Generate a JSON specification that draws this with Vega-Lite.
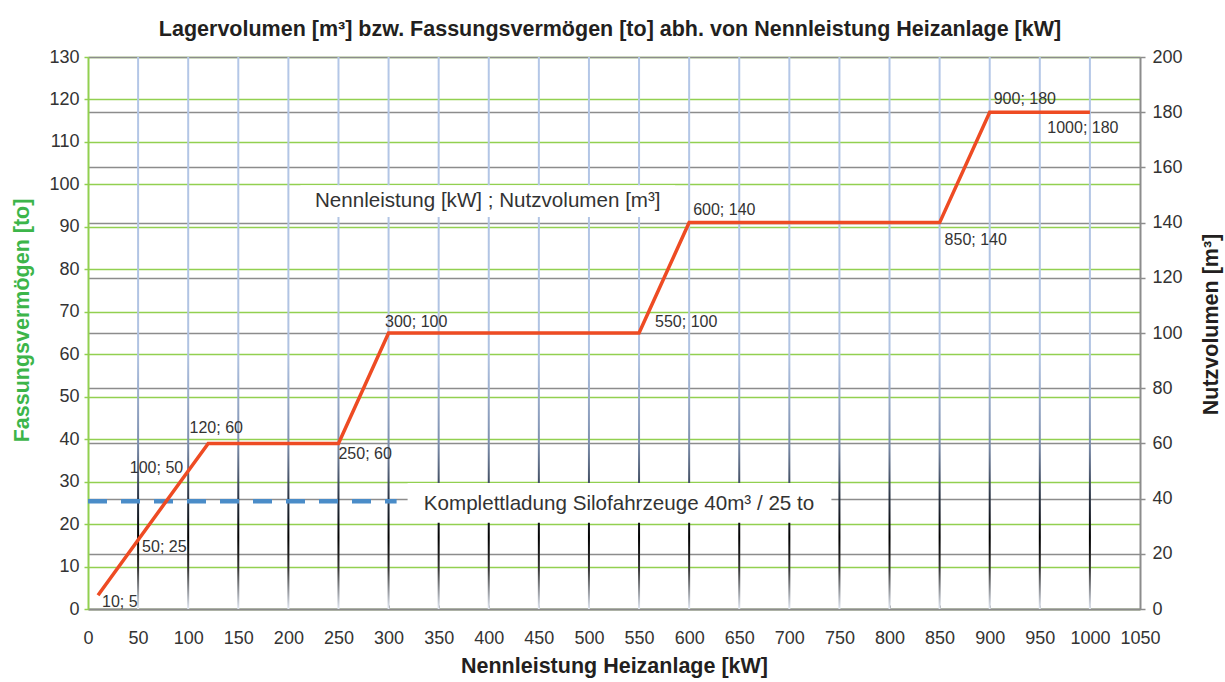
{
  "$schema": "https://vega.github.io/schema/vega-lite/v6.json",
  "width": 1052,
  "height": 552,
  "autosize": {"type": "none"},
  "padding": {"left": 88, "top": 57, "right": 85, "bottom": 73},
  "background": "white",
  "title": {
    "text": "Lagervolumen [m³] bzw. Fassungsvermögen [to] abh. von Nennleistung Heizanlage [kW]",
    "font": "Liberation Sans",
    "fontSize": 21.5,
    "fontWeight": "bold",
    "color": "#231f20",
    "anchor": "middle",
    "offset": 8,
    "dx": -4
  },
  "config": {
    "font": "Liberation Sans",
    "view": {"stroke": null},
    "axis": {
      "labelFont": "Liberation Sans",
      "labelFontSize": 18,
      "labelColor": "#333333",
      "titleFont": "Liberation Sans",
      "titleFontSize": 21.5,
      "titleFontWeight": "bold",
      "titleColor": "#231f20",
      "labelOverlap": false,
      "labelFlush": false
    },
    "axisX": {
      "title": "Nennleistung Heizanlage [kW]",
      "values": [0,10,20,30,40,50,60,70,80,90,100,110,120,130,140,150,160,170,180,190,200,210,220,230,240,250,260,270,280,290,300,310,320,330,340,350,360,370,380,390,400,410,420,430,440,450,460,470,480,490,500,510,520,530,540,550,560,570,580,590,600,610,620,630,640,650,660,670,680,690,700,710,720,730,740,750,760,770,780,790,800,810,820,830,840,850,860,870,880,890,900,910,920,930,940,950,960,970,980,990,1000,1010,1020,1030,1040,1050],
      "labelExpr": "datum.value % 50 === 0 ? datum.label : ''",
      "format": "d",
      "grid": false,
      "tickSize": -4,
      "tickColor": "#8c8c8c",
      "tickWidth": 1,
      "domainColor": "#8c8c8c",
      "domainWidth": 2,
      "labelPadding": 24,
      "titlePadding": 8
    }
  },
  "datasets": {
    "vgrid": [
      {"x": 50}, {"x": 100}, {"x": 150}, {"x": 200}, {"x": 250}, {"x": 300}, {"x": 350},
      {"x": 400}, {"x": 450}, {"x": 500}, {"x": 550}, {"x": 600}, {"x": 650}, {"x": 700},
      {"x": 750}, {"x": 800}, {"x": 850}, {"x": 900}, {"x": 950}, {"x": 1000}
    ],
    "boxes": [
      {"x": 319, "x2": 742, "y": 20.3, "y2": 29.7},
      {"x": 212, "x2": 586, "y": 92.3, "y2": 99.8}
    ],
    "silo": [{"x": 0, "x2": 308, "y": 25.4}],
    "notes": [
      {"x": 530, "y": 24.7, "label": "Komplettladung Silofahrzeuge 40m³ / 25 to"},
      {"x": 399, "y": 96.2, "label": "Nennleistung [kW] ; Nutzvolumen [m³]"}
    ],
    "curve": [
      {"x": 10, "v": 5, "label": "10; 5"},
      {"x": 50, "v": 25, "label": "50; 25"},
      {"x": 100, "v": 50, "label": "100; 50"},
      {"x": 120, "v": 60, "label": "120; 60"},
      {"x": 250, "v": 60, "label": "250; 60"},
      {"x": 300, "v": 100, "label": "300; 100"},
      {"x": 550, "v": 100, "label": "550; 100"},
      {"x": 600, "v": 140, "label": "600; 140"},
      {"x": 850, "v": 140, "label": "850; 140"},
      {"x": 900, "v": 180, "label": "900; 180"},
      {"x": 1000, "v": 180, "label": "1000; 180"}
    ]
  },
  "layer": [
    {
      "layer": [
        {
          "data": {"name": "vgrid"},
          "mark": {
            "type": "bar",
            "width": 2,
            "fill": {
              "gradient": "linear",
              "x1": 0, "y1": 0, "x2": 0, "y2": 1,
              "stops": [
                {"offset": 0, "color": "#b4c7e7"},
                {"offset": 0.54, "color": "#b0c3e2"},
                {"offset": 0.7, "color": "#7d8fae"},
                {"offset": 0.8, "color": "#2a3444"},
                {"offset": 0.87, "color": "#000000"},
                {"offset": 0.93, "color": "#3a3a3a"},
                {"offset": 1, "color": "#e3e9f4"}
              ]
            }
          },
          "encoding": {
            "x": {
              "field": "x",
              "type": "quantitative",
              "scale": {"domain": [0, 1050], "nice": false, "zero": false, "padding": 0},
              "title": "Nennleistung Heizanlage [kW]"
            },
            "y": {
              "datum": 0,
              "type": "quantitative",
              "scale": {"domain": [0, 130], "nice": false, "zero": false},
              "axis": {
                "orient": "left",
                "title": "Fassungsvermögen [to]",
                "titleColor": "#3cb54a",
                "titleY": 263,
                "titlePadding": 15,
                "values": [0,5,10,15,20,25,30,35,40,45,50,55,60,65,70,75,80,85,90,95,100,105,110,115,120,125,130],
                "labelExpr": "datum.value % 10 === 0 ? datum.label : ''",
                "grid": true,
                "gridColor": "#92d050",
                "gridWidth": 1.5,
                "gridOpacity": {"condition": {"test": "datum.value % 10 !== 0", "value": 0}, "value": 1},
                "domainColor": "#92d050",
                "domainWidth": 2,
                "tickColor": "#92d050",
                "tickSize": 4,
                "tickWidth": 1.5,
                "labelPadding": 5
              }
            },
            "y2": {"datum": 130}
          }
        },
        {
          "data": {"name": "boxes"},
          "mark": {"type": "rect", "fill": "white"},
          "encoding": {
            "x": {"field": "x", "type": "quantitative", "title": "Nennleistung Heizanlage [kW]"},
            "x2": {"field": "x2"},
            "y": {"field": "y", "type": "quantitative"},
            "y2": {"field": "y2"}
          }
        },
        {
          "data": {"name": "silo"},
          "mark": {"type": "rule", "color": "#4a8cc8", "strokeWidth": 4.5, "strokeDash": [19, 14]},
          "encoding": {
            "x": {"field": "x", "type": "quantitative", "title": "Nennleistung Heizanlage [kW]"},
            "x2": {"field": "x2"},
            "y": {"field": "y", "type": "quantitative"}
          }
        },
        {
          "data": {"name": "notes"},
          "mark": {"type": "text", "fontSize": 20.6, "color": "#333333", "align": "center", "baseline": "middle"},
          "encoding": {
            "x": {"field": "x", "type": "quantitative", "title": "Nennleistung Heizanlage [kW]"},
            "y": {"field": "y", "type": "quantitative"},
            "text": {"field": "label"}
          }
        }
      ]
    },
    {
      "data": {"name": "curve"},
      "encoding": {
        "x": {"field": "x", "type": "quantitative", "title": "Nennleistung Heizanlage [kW]"},
        "y": {
          "field": "v",
          "type": "quantitative",
          "scale": {"domain": [0, 200], "nice": false, "zero": false},
          "axis": {
            "orient": "right",
            "title": "Nutzvolumen [m³]",
            "titleAngle": 270,
            "titleBaseline": "top",
            "titleY": 267,
            "titlePadding": 18,
            "values": [0,20,40,60,80,100,120,140,160,180,200],
            "grid": true,
            "gridColor": "#8c8c8c",
            "gridWidth": 1.5,
            "domainColor": "#8c8c8c",
            "domainWidth": 2,
            "tickColor": "#8c8c8c",
            "tickSize": 5,
            "tickWidth": 1.5,
            "labelPadding": 7
          }
        },
        "text": {"field": "label"}
      },
      "layer": [
        {"mark": {"type": "line", "color": "#ee4b23", "strokeWidth": 3.5}},
        {"transform": [{"filter": {"field": "x", "oneOf": [10, 50]}}],
         "mark": {"type": "text", "fontSize": 16, "color": "#333333", "align": "left", "baseline": "middle", "dx": 4, "dy": 6.5}},
        {"transform": [{"filter": {"field": "x", "oneOf": [100]}}],
         "mark": {"type": "text", "fontSize": 16, "color": "#333333", "align": "right", "baseline": "middle", "dx": -5, "dy": -3}},
        {"transform": [{"filter": {"field": "x", "oneOf": [120]}}],
         "mark": {"type": "text", "fontSize": 16, "color": "#333333", "align": "center", "baseline": "middle", "dx": 8, "dy": -15}},
        {"transform": [{"filter": {"field": "x", "oneOf": [250]}}],
         "mark": {"type": "text", "fontSize": 16, "color": "#333333", "align": "left", "baseline": "middle", "dx": 0, "dy": 11}},
        {"transform": [{"filter": {"field": "x", "oneOf": [300]}}],
         "mark": {"type": "text", "fontSize": 16, "color": "#333333", "align": "left", "baseline": "middle", "dx": -3.5, "dy": -11}},
        {"transform": [{"filter": {"field": "x", "oneOf": [550]}}],
         "mark": {"type": "text", "fontSize": 16, "color": "#333333", "align": "left", "baseline": "middle", "dx": 16, "dy": -11}},
        {"transform": [{"filter": {"field": "x", "oneOf": [600, 900]}}],
         "mark": {"type": "text", "fontSize": 16, "color": "#333333", "align": "left", "baseline": "middle", "dx": 4, "dy": -13}},
        {"transform": [{"filter": {"field": "x", "oneOf": [850]}}],
         "mark": {"type": "text", "fontSize": 16, "color": "#333333", "align": "left", "baseline": "middle", "dx": 5, "dy": 17}},
        {"transform": [{"filter": {"field": "x", "oneOf": [1000]}}],
         "mark": {"type": "text", "fontSize": 16, "color": "#333333", "align": "center", "baseline": "middle", "dx": -7, "dy": 16}}
      ]
    }
  ],
  "resolve": {"scale": {"y": "independent"}}
}
